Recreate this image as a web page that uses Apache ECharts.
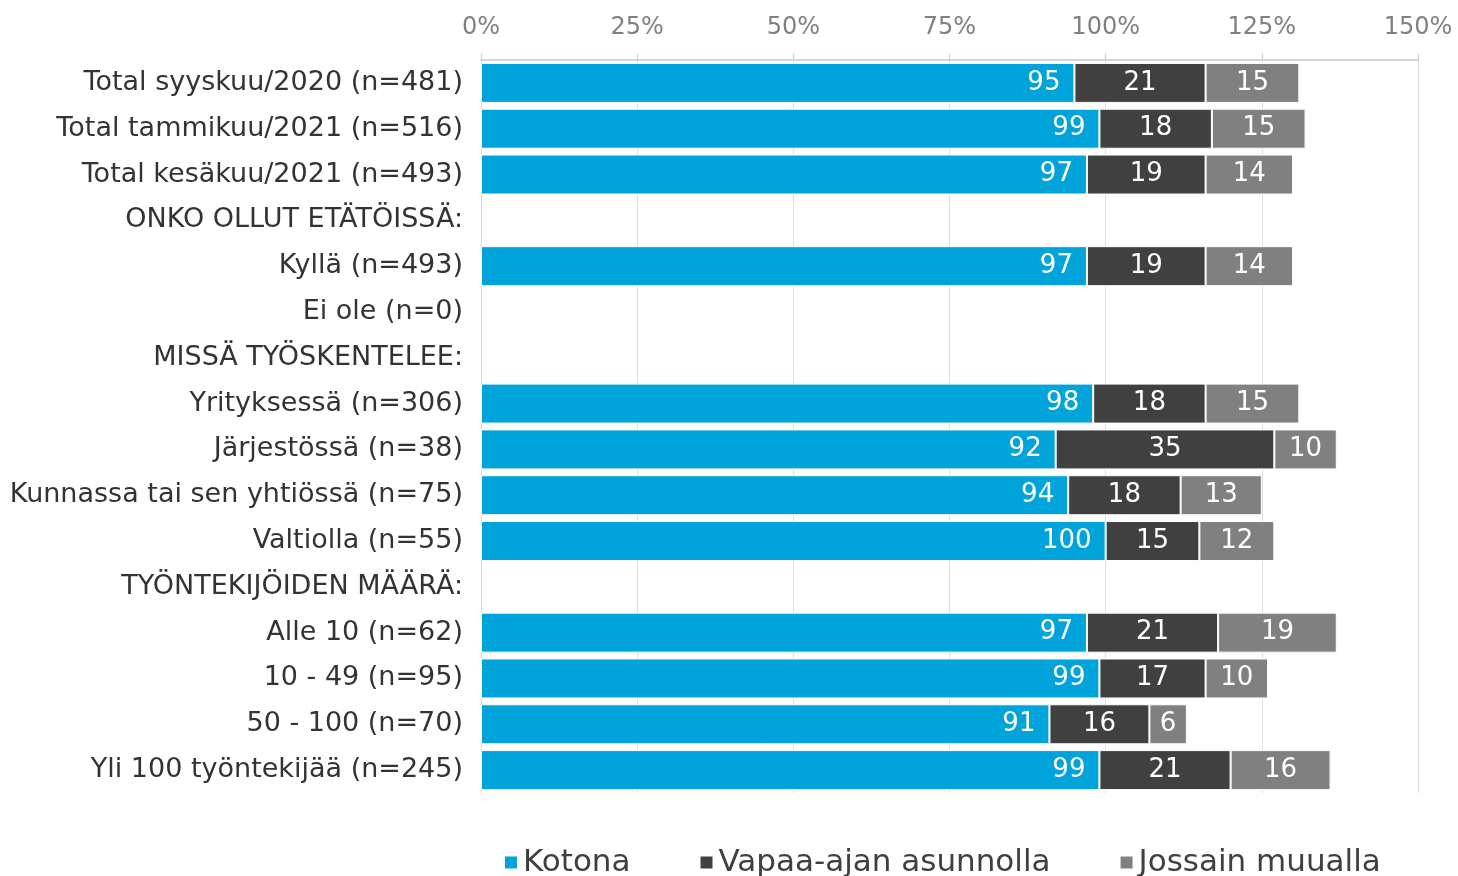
<!DOCTYPE html>
<html>
<head>
<meta charset="utf-8">
<script src="https://cdn.jsdelivr.net/npm/echarts@6/dist/echarts.min.js"></script>
<style>
  html, body { margin: 0; padding: 0; background: #fff; }
  #chart { width: 1458px; height: 876px; }
</style>
</head>
<body>
<div id="chart"></div>
<script>
// kategoriat (väliotsikot tyhjinä riveinä)
const categories = [
  'Total syyskuu/2020 (n=481)',
  'Total tammikuu/2021 (n=516)',
  'Total kesäkuu/2021 (n=493)',
  'ONKO OLLUT ETÄTÖISSÄ:',
  'Kyllä (n=493)',
  'Ei ole (n=0)',
  'MISSÄ TYÖSKENTELEE:',
  'Yrityksessä (n=306)',
  'Järjestössä (n=38)',
  'Kunnassa tai sen yhtiössä (n=75)',
  'Valtiolla (n=55)',
  'TYÖNTEKIJÖIDEN MÄÄRÄ:',
  'Alle 10 (n=62)',
  '10 - 49 (n=95)',
  '50 - 100 (n=70)',
  'Yli 100 työntekijää (n=245)'
]

const seriesNames = ['Kotona', 'Vapaa-ajan asunnolla', 'Jossain muualla']

const kotona = [95, 99, 97, null, 97, null, null, 98, 92, 94, 100, null, 97, 99, 91, 99]
const vapaaAjan = [21, 18, 19, null, 19, null, null, 18, 35, 18, 15, null, 21, 17, 16, 21]
const muualla = [15, 15, 14, null, 14, null, null, 15, 10, 13, 12, null, 19, 10, 6, 16]

const tickLabels = ['0%', '25%', '50%', '75%', '100%', '125%', '150%']

const colors = ['#00A3DA', '#404040', '#808080']
const fontFamily = 'Verdana, "DejaVu Sans", sans-serif'

const chart = echarts.init(document.getElementById('chart'))

const makeSeries = (name, data, idx) => ({
  name,
  type: 'bar',
  stack: 'total',
  data,
  barWidth: 40,
  itemStyle: {
    color: colors[idx],
    borderColor: '#ffffff',
    borderWidth: 1
  },
  label: {
    show: true,
    position: idx === 0 ? 'insideRight' : 'inside',
    distance: 14,
    color: '#ffffff',
    fontSize: 26,
    fontFamily,
    formatter: (p) => (p.value == null ? '' : p.value)
  },
  emphasis: { disabled: true }
})

chart.setOption({
  animation: false,
  grid: {
    left: 481,
    right: 40,
    top: 60,
    bottom: 83
  },
  legend: {
    bottom: -7,
    left: 498,
    itemWidth: 14,
    itemHeight: 14,
    itemGap: 68,
    icon: 'rect',
    textStyle: {
      fontSize: 31,
      color: '#404040',
      fontFamily
    },
    data: seriesNames
  },
  xAxis: {
    type: 'value',
    position: 'top',
    min: 0,
    max: 150,
    interval: 25,
    axisLine: { show: true, lineStyle: { color: '#c8c8c8', width: 1.5 } },
    axisTick: { show: true, length: 6, lineStyle: { color: '#c8c8c8' } },
    axisLabel: {
      color: '#808080',
      fontSize: 24,
      fontFamily,
      margin: 20,
      formatter: (v) => tickLabels[Math.round(v / 25)]
    },
    splitLine: { show: true, lineStyle: { color: '#dedede', width: 1 } }
  },
  yAxis: {
    type: 'category',
    inverse: true,
    data: categories,
    axisLine: { show: true, lineStyle: { color: '#d9d9d9' } },
    axisTick: { show: false },
    axisLabel: {
      color: '#333333',
      fontSize: 27,
      fontFamily,
      margin: 18
    }
  },
  series: [
    makeSeries(seriesNames[0], kotona, 0),
    makeSeries(seriesNames[1], vapaaAjan, 1),
    makeSeries(seriesNames[2], muualla, 2)
  ]
})
</script>
</body>
</html>
